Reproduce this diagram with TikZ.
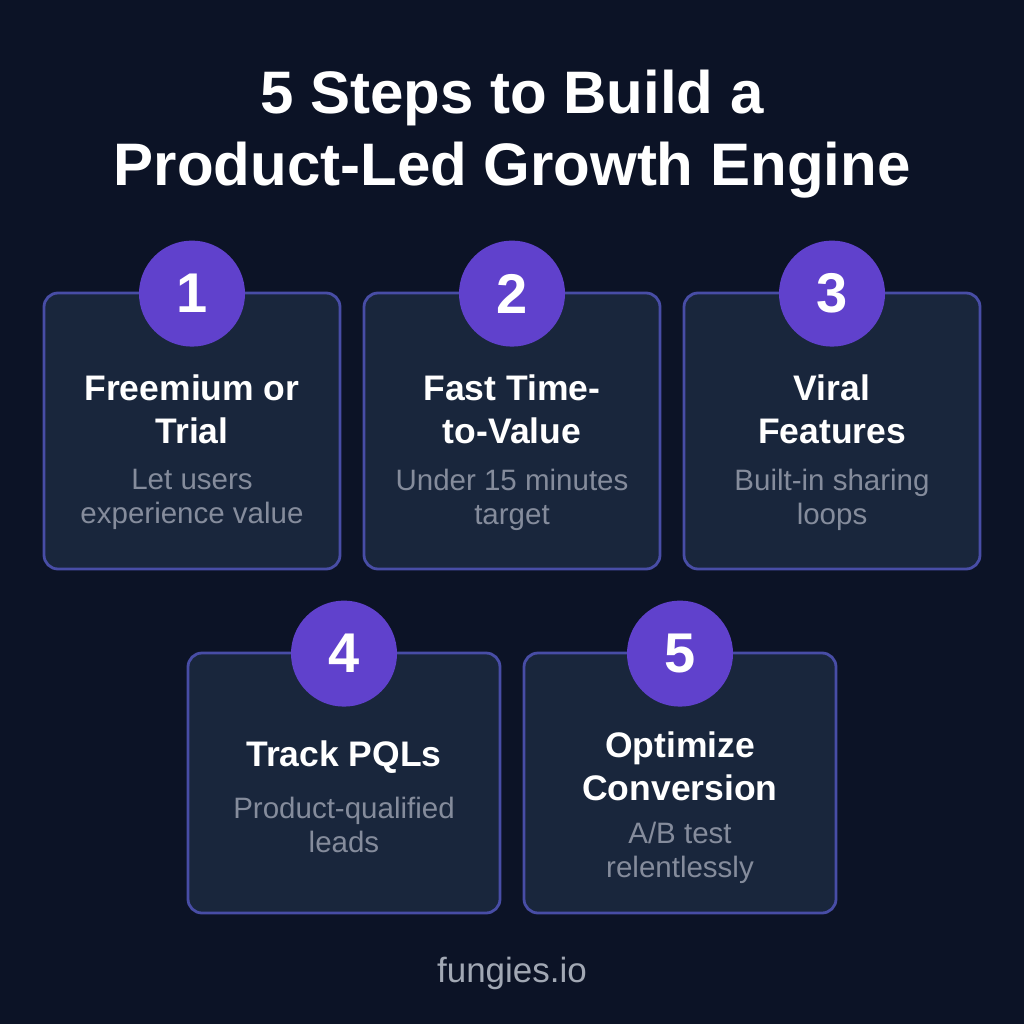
\documentclass[tikz,border=0pt]{standalone}
\usepackage{fontspec}
\setmainfont{Liberation Sans}
\definecolor{pagebg}{HTML}{0C1326}
\definecolor{cardbg}{HTML}{19263C}
\definecolor{cardline}{HTML}{484DA6}
\definecolor{badgebg}{HTML}{6041CC}
\definecolor{bodygrey}{HTML}{858C9C}
\definecolor{footgrey}{HTML}{A2A8B4}

\begin{document}
\begin{tikzpicture}[x=1pt,y=-1pt,node distance=320pt,
  main title/.style={text=white,align=center,font=\fontsize{60}{72}\selectfont\bfseries},
  row one/.style={rounded corners=14pt,draw=cardline,line width=2.8pt,fill=cardbg,minimum width=296pt,minimum height=276pt},
  row two/.style={rounded corners=14pt,draw=cardline,line width=2.8pt,fill=cardbg,minimum width=312pt,minimum height=260pt},
  badge node/.style={circle,fill=badgebg,text=white,minimum size=106pt,inner sep=0pt,font=\fontsize{56}{60}\selectfont\bfseries},
  head node/.style={text=white,align=center,inner sep=0pt,font=\fontsize{35.5}{43}\selectfont\bfseries},
  body node/.style={text=bodygrey,align=center,inner sep=0pt,font=\fontsize{29.5}{34}\selectfont}]

 \useasboundingbox[fill=pagebg] (0,0) rectangle (1024,1024);

 \node[main title] (title) at (512,134) {5 Steps to Build a\\Product-Led Growth Engine};

 \node[row one] (card1) at (192,431) {};
 \node[row one] (card2) [right of=card1] {};
 \node[row one] (card3) [right of=card2] {};
 \node[row two] (card4) at (344,783) {};
 \node[row two] (card5) at (680,783) {};

 \node[badge node,yshift=-2pt] (badge1) at (card1.north) {1};
 \node[badge node,yshift=-2pt] (badge2) at (card2.north) {2};
 \node[badge node,yshift=-2pt] (badge3) at (card3.north) {3};
 \node[badge node,yshift=-2pt] (badge4) at (card4.north) {4};
 \node[badge node,yshift=-2pt] (badge5) at (card5.north) {5};

 \node[head node] (head1) [below of=badge1,node distance=116pt] {Freemium or\\Trial};
 \node[head node] (head2) [below of=badge2,node distance=116pt] {Fast Time-\\to-Value};
 \node[head node] (head3) [below of=badge3,node distance=116pt] {Viral\\Features};
 \node[head node] (head4) [below of=badge4,node distance=104pt] {Track PQLs};
 \node[head node] (head5) [below of=badge5,node distance=113pt] {Optimize\\Conversion};

 \node[body node] (body1) [below of=head1,node distance=90pt] {Let users\\experience value};
 \node[body node] (body2) [below of=head2,node distance=90pt] {Under 15 minutes\\target};
 \node[body node] (body3) [below of=head3,node distance=90pt] {Built-in sharing\\loops};
 \node[body node] (body4) [below of=head4,node distance=67pt] {Product-qualified\\leads};
 \node[body node] (body5) [below of=head5,node distance=86pt] {A/B test\\relentlessly};

 \node[text=footgrey,font=\fontsize{35}{36}\selectfont] (site) at (512,973) {fungies.io};

\end{tikzpicture}
\end{document}
